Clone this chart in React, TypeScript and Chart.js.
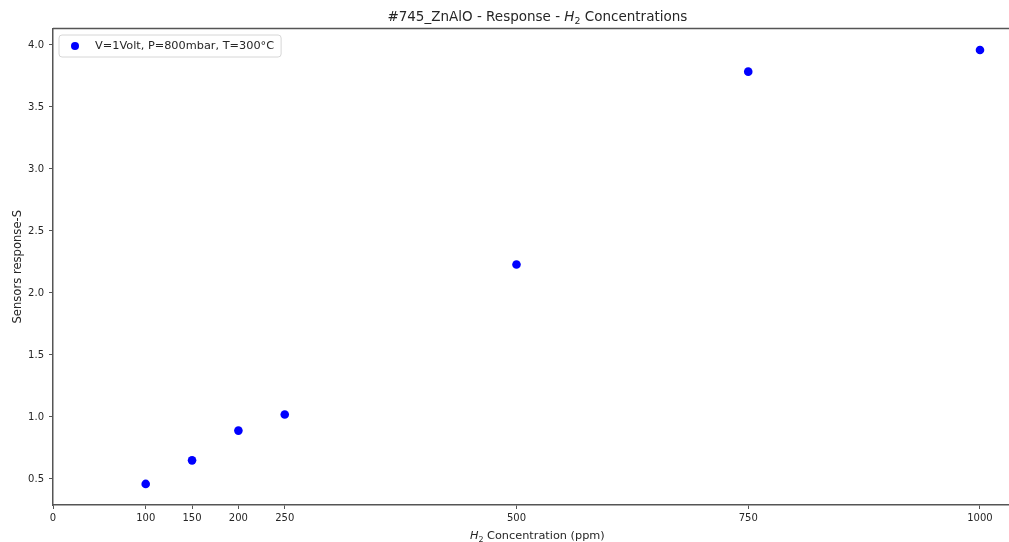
import React, { useEffect, useRef } from "react";
import { Chart, registerables } from "chart.js";

Chart.register(...registerables);

// Measured sensor response versus hydrogen concentration
const concentrations: number[] = [100, 150, 200, 250, 500, 750, 1000];
const responses: number[] = [0.46, 0.65, 0.89, 1.02, 2.23, 3.785, 3.96];

const xTickValues: number[] = [0, 100, 150, 200, 250, 500, 750, 1000];
const yTickValues: number[] = [0.5, 1.0, 1.5, 2.0, 2.5, 3.0, 3.5, 4.0];

const seriesLabel = "V=1Volt, P=800mbar, T=300°C";
const titleParts = [
  { text: "#745_ZnAlO - Response - " },
  { text: "H", italic: true },
  { text: "2", sub: true },
  { text: " Concentrations" },
];
const xLabelParts = [
  { text: "H", italic: true },
  { text: "2", sub: true },
  { text: " Concentration (ppm)" },
];
const yLabel = "Sensors response-S";

const FONT = "'DejaVu Sans', sans-serif";
const TEXT = "#262626";
const SPINE = "#555555";
const POINT = "#0000ff";

type Part = { text: string; italic?: boolean; sub?: boolean };

function drawParts(ctx: CanvasRenderingContext2D, parts: Part[], cx: number, baseline: number, size: number) {
  const fontFor = (p: Part) =>
    `${p.italic ? "italic " : ""}${p.sub ? (size * 0.7).toFixed(1) : size}px ${FONT}`;
  let total = 0;
  for (const p of parts) {
    ctx.font = fontFor(p);
    total += ctx.measureText(p.text).width;
  }
  let x = cx - total / 2;
  ctx.textAlign = "left";
  ctx.textBaseline = "alphabetic";
  ctx.fillStyle = TEXT;
  for (const p of parts) {
    ctx.font = fontFor(p);
    ctx.fillText(p.text, x, baseline + (p.sub ? size * 0.25 : 0));
    x += ctx.measureText(p.text).width;
  }
}

const decorations = {
  id: "decorations",
  afterDraw(chart: any) {
    const { ctx, chartArea, scales } = chart;
    const xs = scales.x;
    // the axes box runs past the right edge; its centre sits at x = 522.5 ppm
    const mid = xs.getPixelForValue((xs.min + 1045) / 2);
    ctx.save();
    // top spine
    ctx.strokeStyle = SPINE;
    ctx.lineWidth = 1.5;
    ctx.beginPath();
    ctx.moveTo(chartArea.left, chartArea.top);
    ctx.lineTo(chart.width, chartArea.top);
    ctx.stroke();

    drawParts(ctx, titleParts, mid, 21, 13.5);
    drawParts(ctx, xLabelParts, mid, 539, 11.3);

    ctx.save();
    ctx.translate(21, (chartArea.top + chartArea.bottom) / 2);
    ctx.rotate(-Math.PI / 2);
    ctx.font = `11.6px ${FONT}`;
    ctx.fillStyle = TEXT;
    ctx.textAlign = "center";
    ctx.textBaseline = "alphabetic";
    ctx.fillText(yLabel, 0, 0);
    ctx.restore();

    // legend
    const lx = chartArea.left + 6;
    const ly = chartArea.top + 6.5;
    ctx.font = `11.3px ${FONT}`;
    const tw = ctx.measureText(seriesLabel).width;
    const w = 36 + tw + 7;
    const h = 22;
    const r = 3;
    ctx.beginPath();
    ctx.moveTo(lx + r, ly);
    ctx.arcTo(lx + w, ly, lx + w, ly + h, r);
    ctx.arcTo(lx + w, ly + h, lx, ly + h, r);
    ctx.arcTo(lx, ly + h, lx, ly, r);
    ctx.arcTo(lx, ly, lx + w, ly, r);
    ctx.closePath();
    ctx.fillStyle = "rgba(255,255,255,0.8)";
    ctx.fill();
    ctx.strokeStyle = "#d6d6d6";
    ctx.lineWidth = 1;
    ctx.stroke();
    ctx.beginPath();
    ctx.arc(lx + 16, ly + h / 2, 4, 0, Math.PI * 2);
    ctx.fillStyle = POINT;
    ctx.fill();
    ctx.fillStyle = TEXT;
    ctx.textAlign = "left";
    ctx.textBaseline = "middle";
    ctx.fillText(seriesLabel, lx + 36, ly + h / 2 + 0.5);
    ctx.restore();
  },
};

export default function App() {
  const ref = useRef<HTMLCanvasElement | null>(null);

  useEffect(() => {
    if (!ref.current) return;
    const chart = new Chart(ref.current, {
      type: "scatter",
      data: {
        datasets: [
          {
            label: seriesLabel,
            data: concentrations.map((c, i) => ({ x: c, y: responses[i] })),
            backgroundColor: POINT,
            borderColor: POINT,
            pointRadius: 4.3,
            pointHoverRadius: 4.3,
            borderWidth: 0,
          },
        ],
      },
      options: {
        animation: false,
        responsive: false,
        layout: { autoPadding: false, padding: { top: 28.5, right: 0, left: 0, bottom: 0 } },
        plugins: {
          legend: { display: false },
          title: { display: false },
          tooltip: { enabled: false },
        },
        scales: {
          x: {
            type: "linear",
            min: 0,
            max: 1031.3,
            afterFit: (s: any) => {
              s.height = 37;
              s.paddingLeft = 0;
              s.paddingRight = 0;
            },
            afterBuildTicks: (s: any) => {
              s.ticks = xTickValues.map((v) => ({ value: v }));
            },
            grid: {
              display: true,
              drawOnChartArea: false,
              drawTicks: true,
              tickLength: 4,
              color: SPINE,
              lineWidth: 1,
            },
            border: { display: true, color: SPINE, width: 1.5 },
            ticks: {
              color: TEXT,
              font: { family: FONT, size: 10 },
              padding: 3,
              maxRotation: 0,
              autoSkip: false,
              callback: (v: any) => String(v),
            },
          },
          y: {
            type: "linear",
            min: 0.29,
            max: 4.133,
            afterFit: (s: any) => {
              s.width = 53;
              s.paddingTop = 0;
              s.paddingBottom = 0;
            },
            afterBuildTicks: (s: any) => {
              s.ticks = yTickValues.map((v) => ({ value: v }));
            },
            grid: {
              display: true,
              drawOnChartArea: false,
              drawTicks: true,
              tickLength: 4,
              color: SPINE,
              lineWidth: 1,
            },
            border: { display: true, color: SPINE, width: 1.5 },
            ticks: {
              color: TEXT,
              font: { family: FONT, size: 10 },
              padding: 5,
              autoSkip: false,
              callback: (v: any) => Number(v).toFixed(1),
            },
          },
        },
      },
      plugins: [decorations],
    });
    return () => chart.destroy();
  }, []);

  return (
    <div style={{ position: "fixed", left: 0, top: 0, width: 1009, height: 542, overflow: "hidden", background: "#fff" }}>
      <canvas ref={ref} width={1009} height={542} style={{ display: "block" }} />
    </div>
  );
}
